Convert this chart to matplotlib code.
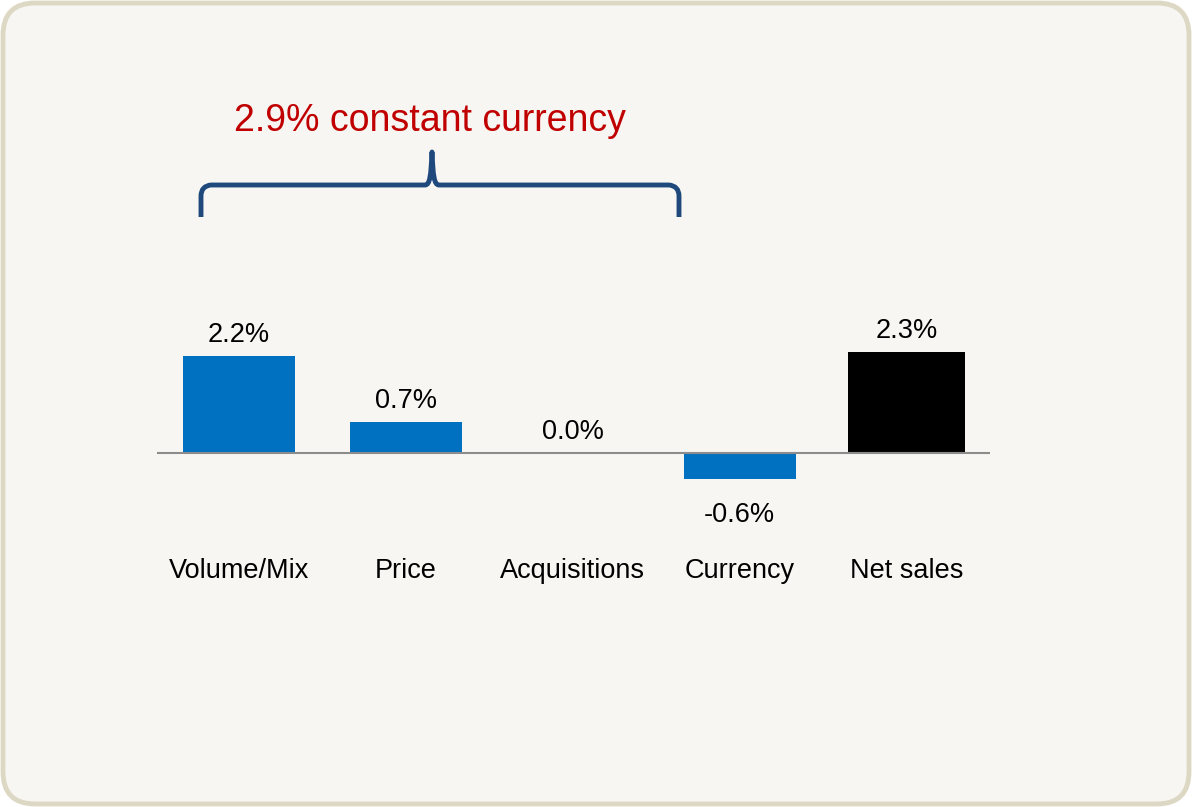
import numpy as np
import matplotlib.pyplot as plt
from matplotlib.patches import FancyBboxPatch, PathPatch
from matplotlib.path import Path

plt.rcParams['font.family'] = ['Liberation Sans', 'DejaVu Sans']

categories = ["Volume/Mix", "Price", "Acquisitions", "Currency", "Net sales"]
values = [2.2, 0.7, 0.0, -0.6, 2.3]
value_labels = ["2.2%", "0.7%", "0.0%", "-0.6%", "2.3%"]
bar_colors = ["#0070C0", "#0070C0", "#0070C0", "#0070C0", "#000000"]
bar_widths = [0.67, 0.67, 0.67, 0.67, 0.7]
bracket_title = "2.9% constant currency"

W, H = 1192, 807
fig = plt.figure(figsize=(W / 100, H / 100), dpi=100, facecolor="white")

# rounded panel background (behind the axes)
bg = FancyBboxPatch((3 / W, 3 / H), (W - 6) / W, (H - 6) / H,
                    boxstyle="round,pad=0,rounding_size=0.027",
                    transform=fig.transFigure, facecolor="#F7F6F2",
                    edgecolor="#DDD8C4", linewidth=3.5, mutation_aspect=W / H,
                    zorder=-5)
fig.patches.append(bg)

# main axes: baseline at y=453px, 44px per 1%
ax = fig.add_axes([157 / W, 0, 833 / W, 1])
ax.set_xlim(-0.49, 4.5)
ax.set_ylim(-354 / 44, 453 / 44)
ax.axis("off")

x = np.arange(len(categories))
ax.bar(x, values, width=bar_widths, color=bar_colors, edgecolor=bar_colors,
       linewidth=0, zorder=2)
ax.axhline(0, color="#8C8C8C", linewidth=1.5, zorder=3)

for xi, v, lab in zip(x, values, value_labels):
    if v >= 0:
        ax.text(xi, v + 0.48, lab, ha="center", va="center", fontsize=19.5)
    else:
        ax.text(xi, v - 0.8, lab, ha="center", va="center", fontsize=19.5)
    ax.text(xi, -2.69, categories[xi], ha="center", va="center", fontsize=19.5)

# overlay in pixel coordinates for the bracket and its title
ov = fig.add_axes([0, 0, 1, 1])
ov.set_xlim(0, W)
ov.set_ylim(H, 0)
ov.axis("off")

xl, xm, xr = 201, 432, 679
yb, yh, yp = 217, 185, 152
verts = [(xl, yb), (xl, 196), (xl, 186), (xl + 10, yh),
         (xm - 7, yh), (xm - 2, yh), (xm - 1, 175), (xm, yp),
         (xm + 1, 175), (xm + 2, yh), (xm + 7, yh),
         (xr - 10, yh), (xr, 186), (xr, 196), (xr, yb)]
codes = [Path.MOVETO, Path.LINETO, Path.CURVE3, Path.CURVE3,
         Path.LINETO, Path.CURVE4, Path.CURVE4, Path.CURVE4,
         Path.CURVE4, Path.CURVE4, Path.CURVE4,
         Path.LINETO, Path.CURVE3, Path.CURVE3, Path.LINETO]
ov.add_patch(PathPatch(Path(verts, codes), facecolor="none",
                       edgecolor="#1F497D", linewidth=3.5,
                       capstyle="butt", joinstyle="round"))
ov.text(430, 121, bracket_title, ha="center", va="center",
        fontsize=27, color="#C00000")

fig.savefig("out.png", dpi=100, facecolor=fig.get_facecolor())
